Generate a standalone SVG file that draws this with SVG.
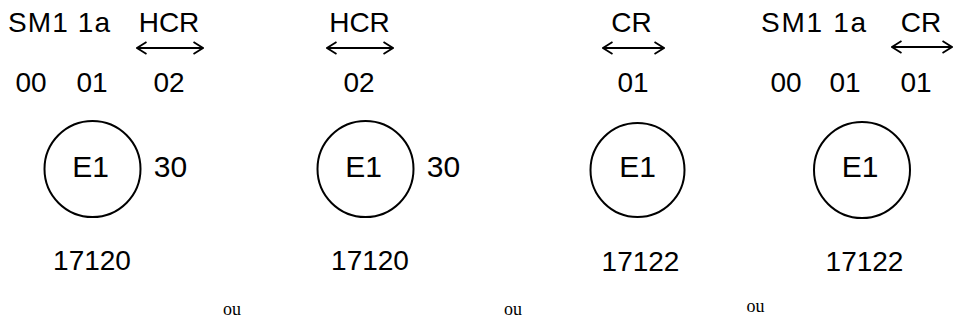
<svg xmlns="http://www.w3.org/2000/svg" width="959" height="322" viewBox="0 0 959 322">
<defs>
<marker id="ah" viewBox="0 0 12 14" refX="11" refY="7" markerWidth="12" markerHeight="14" markerUnits="userSpaceOnUse" orient="auto-start-reverse">
<path d="M1.5,1 L11,7 L1.5,13" fill="none" stroke="#000" stroke-width="1.8"/>
</marker>
</defs>
<style>
text{font-family:"Liberation Sans",Arial,sans-serif;fill:#000}
.t{font-size:28px}
.c{font-size:30px}
.m{text-anchor:middle}
.ou{font-family:"Liberation Serif","Times New Roman",serif;font-size:18px;text-anchor:middle}
circle{fill:none;stroke:#000;stroke-width:2}
.arr{stroke:#000;stroke-width:1.8;fill:none;marker-start:url(#ah);marker-end:url(#ah)}
</style>
<rect width="959" height="322" fill="#fff"/>
<g id="connectors">
<line class="arr" x1="137" y1="48" x2="203" y2="48"/>
<line class="arr" x1="327" y1="48" x2="393" y2="48"/>
<line class="arr" x1="603" y1="48" x2="664" y2="48"/>
<line class="arr" x1="892" y1="47" x2="952" y2="47"/>
</g>
<g id="panel1">
<text class="t" x="8" y="32" textLength="102">SM1 1a</text>
<text class="t m" x="169" y="32">HCR</text>
<text class="t m" x="31" y="92">00</text>
<text class="t m" x="92" y="92">01</text>
<text class="t m" x="169" y="92">02</text>
<g id="node1">
<circle cx="92.5" cy="169" r="48"/>
<text class="c m" x="90.5" y="177">E1</text>
</g>
<text class="c m" x="170.5" y="177">30</text>
<text class="t m" x="92" y="270">17120</text>
</g>
<g id="panel2">
<text class="t m" x="359.5" y="32">HCR</text>
<text class="t m" x="359" y="92">02</text>
<g id="node2">
<circle cx="365.5" cy="169" r="48"/>
<text class="c m" x="363.5" y="177">E1</text>
</g>
<text class="c m" x="443.5" y="177">30</text>
<text class="t m" x="370" y="270">17120</text>
</g>
<g id="panel3">
<text class="t m" x="631.5" y="32">CR</text>
<text class="t m" x="633" y="92">01</text>
<g id="node3">
<circle cx="637.5" cy="170" r="47"/>
<text class="c m" x="637.5" y="177">E1</text>
</g>
<text class="t m" x="640.5" y="271">17122</text>
</g>
<g id="panel4">
<text class="t" x="761" y="32" textLength="105">SM1 1a</text>
<text class="t m" x="921" y="32">CR</text>
<text class="t m" x="786" y="92">00</text>
<text class="t m" x="845" y="92">01</text>
<text class="t m" x="916" y="92">01</text>
<g id="node4">
<circle cx="862" cy="170" r="48"/>
<text class="c m" x="860" y="177">E1</text>
</g>
<text class="t m" x="864.5" y="271">17122</text>
</g>
<g id="separators">
<text class="ou" x="232" y="315">ou</text>
<text class="ou" x="513" y="315">ou</text>
<text class="ou" x="755.5" y="312">ou</text>
</g>
</svg>
